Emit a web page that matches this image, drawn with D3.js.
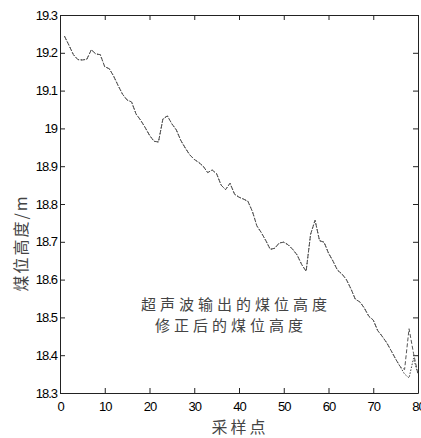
<!DOCTYPE html>
<html>
<head>
  <meta charset="utf-8">
  <title>煤位高度</title>
  <style>
   html, body { margin: 0; padding: 0; background: #fff; }
   .tick text { font-family: "Liberation Sans", Arial, sans-serif; font-size: 13px; letter-spacing: -1px; fill: #000; }
   .domain, .tick line { stroke: #222; }
   .cjk { font-family: "Noto Sans CJK SC", sans-serif; fill: #444; }
  </style>
</head>
<body>
  <div id="chart"></div>
  <script src="https://d3js.org/d3.v7.min.js"></script>
  <script>
// sample index
var samples = [1,2,3,4,5,6,7,8,9,10,11,12,13,14,15,16,17,18,19,20,
  21,22,23,24,25,26,27,28,29,30,31,32,33,34,35,36,37,38,39,40,
  41,42,43,44,45,46,47,48,49,50,51,52,53,54,55,56,57,58,59,60,
  61,62,63,64,65,66,67,68,69,70,71,72,73,74,75,76,77,78,79,80];

// 超声波输出的煤位高度
var rawHeight = [19.244,19.220,19.195,19.182,19.181,19.183,19.208,19.197,19.195,19.163,
  19.158,19.138,19.113,19.090,19.075,19.070,19.038,19.022,19.003,18.982,
  18.966,18.964,19.025,19.033,19.012,18.996,18.968,18.948,18.930,18.918,
  18.910,18.900,18.883,18.890,18.880,18.850,18.838,18.855,18.826,18.818,
  18.813,18.807,18.780,18.742,18.724,18.703,18.680,18.683,18.697,18.699,
  18.692,18.680,18.665,18.640,18.622,18.720,18.757,18.703,18.699,18.670,
  18.649,18.625,18.615,18.600,18.576,18.548,18.541,18.525,18.503,18.493,
  18.465,18.450,18.433,18.412,18.390,18.370,18.350,18.340,18.392,18.350];

// 修正后的煤位高度
var fixedHeight = [19.244,19.220,19.195,19.182,19.181,19.183,19.208,19.197,19.195,19.163,
  19.158,19.138,19.113,19.090,19.075,19.070,19.038,19.022,19.003,18.982,
  18.966,18.964,19.025,19.033,19.012,18.996,18.968,18.948,18.930,18.918,
  18.910,18.900,18.883,18.890,18.880,18.850,18.838,18.855,18.826,18.818,
  18.813,18.807,18.780,18.742,18.724,18.703,18.680,18.683,18.697,18.699,
  18.692,18.680,18.665,18.640,18.622,18.720,18.757,18.703,18.699,18.670,
  18.649,18.625,18.615,18.600,18.576,18.548,18.541,18.525,18.503,18.493,
  18.465,18.450,18.433,18.412,18.390,18.370,18.362,18.470,18.405,18.350];

var xTicks = [0,10,20,30,40,50,60,70,80];
var yTicks = [18.3,18.4,18.5,18.6,18.7,18.8,18.9,19,19.1,19.2,19.3];
var yTickLabels = ["18.3","18.4","18.5","18.6","18.7","18.8","18.9","19","19.1","19.2","19.3"];
var legendLabels = ["超声波输出的煤位高度", "修正后的煤位高度"];

var width = 421, height = 438;
var margin = {top: 15, right: 3, bottom: 45, left: 60};

var svg = d3.select("#chart").append("svg")
  .attr("width", width)
  .attr("height", height);

var x = d3.scaleLinear().domain([0, 80]).range([margin.left, width - margin.right]);
var y = d3.scaleLinear().domain([18.3, 19.3]).range([height - margin.bottom, margin.top]);

// axes, ticks pointing inward (box style)
svg.append("g")
  .attr("transform", "translate(0," + (height - margin.bottom) + ")")
  .call(d3.axisBottom(x).tickValues(xTicks).tickSizeInner(-5).tickSizeOuter(0).tickPadding(9))
  .selectAll("text").attr("dy", "0.71em");

svg.append("g")
  .attr("transform", "translate(0," + margin.top + ")")
  .call(d3.axisTop(x).tickValues(xTicks).tickSizeInner(-5).tickSizeOuter(0).tickFormat(""));

svg.append("g")
  .attr("transform", "translate(" + margin.left + ",0)")
  .call(d3.axisLeft(y).tickValues(yTicks).tickSizeInner(-5).tickSizeOuter(0).tickPadding(3)
    .tickFormat(function(d, i) { return yTickLabels[i]; }));

svg.append("g")
  .attr("transform", "translate(" + (width - margin.right) + ",0)")
  .call(d3.axisRight(y).tickValues(yTicks).tickSizeInner(-5).tickSizeOuter(0).tickFormat(""));

// lines
var line = function(vals) {
  return d3.line()
    .x(function(d, i) { return x(samples[i]); })
    .y(function(d) { return y(d); })(vals);
};

svg.append("path")
  .attr("d", line(rawHeight))
  .attr("fill", "none")
  .attr("stroke", "#444")
  .attr("stroke-width", 1)
  .attr("stroke-dasharray", "1.5,1.5");

svg.append("path")
  .attr("d", line(fixedHeight))
  .attr("fill", "none")
  .attr("stroke", "#555")
  .attr("stroke-width", 1)
  .attr("stroke-dasharray", "4,2");

// legend text
svg.append("text").attr("class", "cjk")
  .attr("x", 141).attr("y", 310)
  .attr("font-size", "15px").attr("letter-spacing", "4px")
  .text(legendLabels[0]);
svg.append("text").attr("class", "cjk")
  .attr("x", 155).attr("y", 331)
  .attr("font-size", "15px").attr("letter-spacing", "4px")
  .text(legendLabels[1]);

// axis labels
svg.append("text").attr("class", "cjk")
  .attr("x", (margin.left + width - margin.right) / 2 + 1).attr("y", 433)
  .attr("text-anchor", "middle")
  .attr("font-size", "16px").attr("letter-spacing", "3px")
  .text("采样点");

svg.append("text").attr("class", "cjk")
  .attr("transform", "translate(27,243) rotate(-90)")
  .attr("text-anchor", "middle")
  .attr("font-size", "16px").attr("letter-spacing", "2px")
  .text("煤位高度/m");
  </script>
</body>
</html>
